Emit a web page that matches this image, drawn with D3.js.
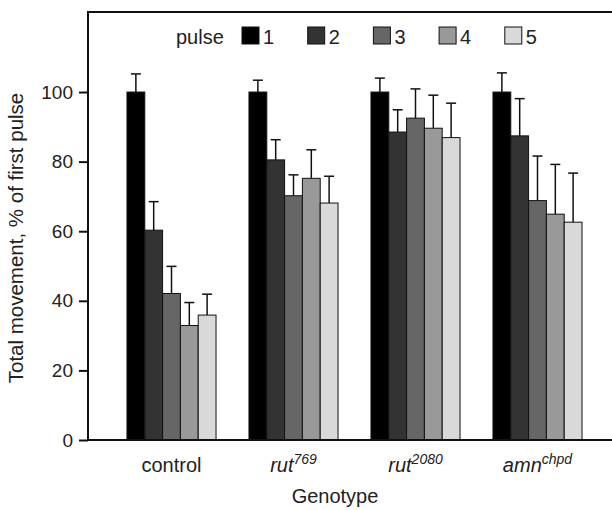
<!DOCTYPE html>
<html>
<head>
<meta charset="utf-8">
<script src="https://cdn.jsdelivr.net/npm/d3@7"></script>
<style>
  body { margin: 0; background: #fff; }
  svg text { font-family: "Liberation Sans", Arial, sans-serif; fill: #222; }
</style>
</head>
<body>
<div id="chart"></div>
<script>
// Data
const genotypes = ['control', 'rut769', 'rut2080', 'amnchpd'];
const genotypeBase = ['control', 'rut', 'rut', 'amn'];
const genotypeSup = ['', '769', '2080', 'chpd'];
const pulses = ['1', '2', '3', '4', '5'];
const pulseColors = ['#000000', '#333333', '#666666', '#999999', '#d9d9d9'];
const yTicks = [0, 20, 40, 60, 80, 100];

const controlMean = [100, 60.3, 42.1, 32.9, 35.9];
const controlErr = [5.2, 8.2, 7.8, 6.6, 6.0];
const rut769Mean = [100, 80.5, 70.2, 75.2, 68.1];
const rut769Err = [3.4, 5.8, 6.0, 8.2, 7.7];
const rut2080Mean = [100, 88.5, 92.5, 89.6, 86.9];
const rut2080Err = [4.0, 6.4, 8.4, 9.5, 9.9];
const amnMean = [100, 87.4, 68.8, 64.9, 62.6];
const amnErr = [5.5, 10.7, 12.8, 14.3, 14.1];

const means = [controlMean, rut769Mean, rut2080Mean, amnMean];
const errs = [controlErr, rut769Err, rut2080Err, amnErr];

// Build rows for drawing
const rows = [];
genotypes.forEach((g, gi) => {
  pulses.forEach((p, pi) => {
    rows.push({ genotype: g, pulse: p, mean: means[gi][pi], err: errs[gi][pi] });
  });
});

const WIDTH = 612;
const HEIGHT = 510;
const LEFT = 88;
const TOP = 12;
const BOTTOM = 440;

const svg = d3.select('#chart')
              .append('svg')
              .attr('width', WIDTH)
              .attr('height', HEIGHT);

const yScale = d3.scaleLinear()
                 .domain([0, 123])
                 .range([BOTTOM, TOP]);

const xScale = d3.scaleBand()
                 .domain(genotypes)
                 .range([110.5, 598.5])
                 .paddingInner(0.27)
                 .paddingOuter(0.135);

const xInner = d3.scaleBand()
                 .domain(pulses)
                 .range([0, xScale.bandwidth()]);

const color = d3.scaleOrdinal()
                .domain(pulses)
                .range(pulseColors);

// Bars
svg.append('g')
   .selectAll('rect')
   .data(rows)
   .enter()
   .append('rect')
   .attr('x', d => xScale(d.genotype) + xInner(d.pulse))
   .attr('y', d => yScale(d.mean))
   .attr('width', xInner.bandwidth())
   .attr('height', d => yScale(0) - yScale(d.mean))
   .attr('fill', d => color(d.pulse))
   .attr('stroke', '#111')
   .attr('stroke-width', 1);

// Error bars (upper only)
const errG = svg.append('g')
                .attr('stroke', '#111')
                .attr('stroke-width', 1.5);
errG.selectAll('line.v')
    .data(rows)
    .enter()
    .append('line')
    .attr('class', 'v')
    .attr('x1', d => xScale(d.genotype) + xInner(d.pulse) + xInner.bandwidth() / 2)
    .attr('x2', d => xScale(d.genotype) + xInner(d.pulse) + xInner.bandwidth() / 2)
    .attr('y1', d => yScale(d.mean))
    .attr('y2', d => yScale(d.mean + d.err));
errG.selectAll('line.cap')
    .data(rows)
    .enter()
    .append('line')
    .attr('class', 'cap')
    .attr('x1', d => xScale(d.genotype) + xInner(d.pulse) + xInner.bandwidth() / 2 - 5)
    .attr('x2', d => xScale(d.genotype) + xInner(d.pulse) + xInner.bandwidth() / 2 + 5)
    .attr('y1', d => yScale(d.mean + d.err))
    .attr('y2', d => yScale(d.mean + d.err));

// Y axis
const yAxis = d3.axisLeft(yScale).tickValues(yTicks).tickSize(9).tickPadding(6);
const yG = svg.append('g')
              .attr('transform', 'translate(' + LEFT + ', 0)')
              .call(yAxis);
yG.select('.domain').remove();
yG.selectAll('.tick line').attr('stroke', '#111').attr('stroke-width', 2);
yG.selectAll('.tick text').style('font-size', '19px').attr('fill', '#222');

// Frame: left, bottom and top lines
svg.append('line').attr('x1', LEFT).attr('x2', LEFT).attr('y1', TOP - 1).attr('y2', BOTTOM + 1)
   .attr('stroke', '#111').attr('stroke-width', 2);
svg.append('line').attr('x1', LEFT - 1).attr('x2', WIDTH).attr('y1', BOTTOM).attr('y2', BOTTOM)
   .attr('stroke', '#111').attr('stroke-width', 2);
svg.append('line').attr('x1', LEFT - 1).attr('x2', WIDTH).attr('y1', TOP).attr('y2', TOP)
   .attr('stroke', '#111').attr('stroke-width', 2);

// X category labels with superscripts
const xLab = svg.append('g')
                .selectAll('text')
                .data(genotypes)
                .enter()
                .append('text')
                .attr('x', d => xScale(d) + xScale.bandwidth() / 2)
                .attr('y', 472)
                .attr('text-anchor', 'middle')
                .style('font-size', '20px');
xLab.append('tspan')
    .text((d, i) => genotypeBase[i])
    .style('font-style', (d, i) => genotypeSup[i] ? 'italic' : 'normal');
xLab.append('tspan')
    .attr('dy', -8)
    .style('font-size', '14px')
    .style('font-style', 'italic')
    .text((d, i) => genotypeSup[i]);

// Axis titles
svg.append('text')
   .attr('x', (LEFT + WIDTH) / 2 - 15)
   .attr('y', 503)
   .attr('text-anchor', 'middle')
   .style('font-size', '20px')
   .text('Genotype');

svg.append('text')
   .attr('transform', 'translate(23, 238) rotate(-90)')
   .attr('text-anchor', 'middle')
   .style('font-size', '20.5px')
   .text('Total movement, % of first pulse');

// Legend
const legend = svg.append('g');
legend.append('text')
      .attr('x', 176)
      .attr('y', 44)
      .style('font-size', '20px')
      .text('pulse');
const item = legend.selectAll('g.item')
                   .data(pulses)
                   .enter()
                   .append('g')
                   .attr('class', 'item')
                   .attr('transform', (d, i) => 'translate(' + (242 + i * 65.7) + ', 27)');
item.append('rect')
    .attr('width', 17)
    .attr('height', 17)
    .attr('fill', d => color(d))
    .attr('stroke', '#111')
    .attr('stroke-width', 1);
item.append('text')
    .attr('x', 21)
    .attr('y', 17)
    .style('font-size', '20px')
    .text(d => d);
</script>
</body>
</html>
